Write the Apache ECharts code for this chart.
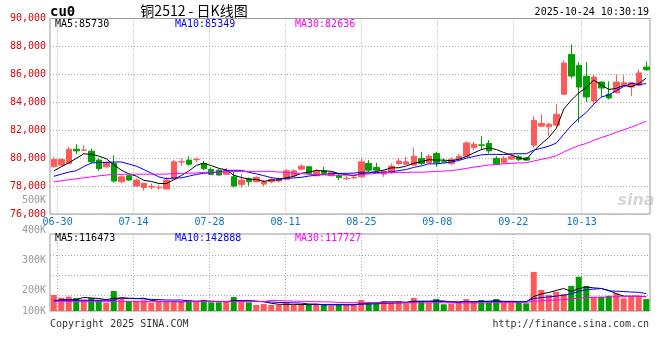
<!DOCTYPE html>
<html><head><meta charset="utf-8">
<script src="https://cdn.jsdelivr.net/npm/echarts@6/dist/echarts.min.js"></script>
<style>html,body{margin:0;padding:0;background:#fff}#c{width:660px;height:360px}</style>
</head><body><div id="c"></div><script>
// ---------- data ----------
const dates = ['06-27','06-30','07-01','07-02','07-03','07-04','07-07','07-08','07-09','07-10','07-11','07-14','07-15','07-16','07-17','07-18','07-21','07-22','07-23','07-24','07-25','07-28','07-29','07-30','07-31','08-01','08-04','08-05','08-06','08-07','08-08','08-11','08-12','08-13','08-14','08-15','08-18','08-19','08-20','08-21','08-22','08-25','08-26','08-27','08-28','08-29','09-01','09-02','09-03','09-04','09-05','09-08','09-09','09-10','09-11','09-12','09-15','09-16','09-17','09-18','09-19','09-22','09-23','09-24','09-25','09-26','09-29','09-30','10-09','10-10','10-13','10-14','10-15','10-16','10-17','10-20','10-21','10-22','10-23','10-24'];
const opens  = [79380,79500,79620,80640,80560,80500,79860,79380,79620,78310,78740,78000,77900,77930,77880,77790,78500,79720,79860,79890,79620,79190,79140,78840,78660,78120,78500,78310,78140,78310,78360,78480,78740,79210,79380,78740,79090,78740,78740,78530,78580,78660,79620,79330,78860,78950,79620,79570,79500,79980,79670,80330,79760,79620,79930,80140,80760,80950,81050,79980,79670,79930,80090,80020,80930,82290,82240,82360,84570,87430,86640,85860,84090,85450,84570,84690,85210,85090,85210,86520];
const closes = [79910,79900,80640,80520,80580,79740,79260,79690,78360,78660,78430,78430,78190,77960,77910,78430,79740,79750,79570,79920,79240,78840,78790,79020,78000,78430,78310,78620,78310,78480,78480,79090,79090,79430,78910,79070,78910,78980,78620,78560,78620,79740,79140,79140,79070,79430,79790,79740,80140,79620,80140,79670,79730,79910,80140,81090,81000,80920,80520,79570,80000,80140,79910,79860,82710,82480,82430,83140,86810,85880,85090,84380,85810,85020,84310,85450,85400,85400,86100,86330];
const lows   = [79340,79450,79620,80290,80550,79620,79090,79340,78240,78190,78360,77950,77670,77760,77710,77790,78500,79450,79450,79690,79140,78790,78740,78790,77900,77900,78020,78260,78000,78190,78260,78430,78690,79140,78860,78690,78860,78690,78430,78430,78530,78620,79020,79090,78660,78860,79500,79500,79500,79500,79620,79380,79690,79500,79860,80090,80570,80570,80330,79500,79620,79860,79790,79790,80740,82240,81590,82360,84570,85690,82550,84020,83860,84380,84210,84620,85160,84430,85160,86240];
const highs  = [80090,79980,80810,81000,80930,80690,79980,79760,80210,78790,78790,78550,78240,78190,78070,78660,79860,79980,80140,80050,79790,79340,79210,79310,79070,78860,78620,78690,78430,78600,78620,79210,79190,79570,79430,79210,79380,79020,78910,78740,78690,79980,79860,79670,79140,79620,80020,80090,80760,80450,80280,80450,79980,80050,80330,81210,81160,81570,81290,80140,80140,80330,80210,80090,83000,83140,82550,83860,87000,88140,86880,86880,85980,85500,85500,85980,85930,85450,86350,86930];
const volumes = [131,109,117,107,93,107,90,68,164,107,84,84,88,68,76,76,80,76,88,76,88,71,71,76,115,90,71,49,57,49,49,68,49,49,49,60,49,43,57,49,57,90,71,66,82,68,82,63,107,82,68,98,55,60,74,98,68,90,71,98,66,71,74,63,320,172,131,158,139,205,281,205,117,117,125,145,104,117,117,98].map(v => v * 1000);
// moving-average values for days whose window starts before 06-27
const ma5Head  = [79090,79380,79670,79980];
const ma10Head = [78700,78850,79000,79100,79400,79650,79690,79700,79720];
const ma30Head = [78300,78380,78450,78520,78590,78660,78730,78790,78840,78840,78850,78850,78850,78850,78850,78860,78900,78910,78920,78940,78980,78990,79000,79020,79040,79050,79050,79050,79050];
const vma5Head  = [79000,93000,93000,93000];
const vma10Head = [88000,88000,88000,88000,88000,88000,88000,88000,88000];
const vma30Head = [77000,77000,77000,77000,77000,77000,77000,77000,77000,77000,77000,77000,77000,77000,77000,77000,77000,77000,77000,77000,77000,77000,77000,77000,77000,77000,77000,77000,77000];
const labelIdx = [1,11,21,31,41,51,61,70];
const priceMA = ['MA5:85730','MA10:85349','MA30:82636'];
const volMA   = ['MA5:116473','MA10:142888','MA30:117727'];
const volTickLabels = ['500K','400K','300K','200K','100K'];
const headerCode = 'cu0';
const headerTitle = '铜2512 - 日K线图';
const headerTime = '2025-10-24 10:30:19';
const footerLeft = 'Copyright 2025 SINA.COM';
const footerRight = 'http://finance.sina.com.cn';

// ---------- helpers ----------
function movingAvg(vals, n, head) {
  return vals.map((v, i) => {
    if (i < n - 1) return head[i];
    let s = 0; for (let k = i - n + 1; k <= i; k++) s += vals[k];
    return Math.round(s / n);
  });
}
const UP = '#ff5a5a', DOWN = '#00a000';
const MONO = '"DejaVu Sans Mono", "Liberation Mono", monospace';
const GRIDC = '#aaaaaa';
const candles = opens.map((o, i) => [o, closes[i], lows[i], highs[i]]);
const volBars = volumes.map((v, i) => ({value: v, itemStyle: {color: closes[i] >= opens[i] ? UP : DOWN}}));
const n = dates.length;

const chart = echarts.init(document.getElementById('c'), null, {renderer: 'canvas'});
const dotted = {show: true, lineStyle: {color: GRIDC, type: [1, 2], width: 1}};
const lineS = (name, data, color, xi, yi) => ({name, type: 'line', data, xAxisIndex: xi, yAxisIndex: yi, symbol: 'none', silent: true, lineStyle: {color, width: 1}, animation: false});

function text(x, y, t, fill, font, align) {
  return {type: 'text', x, y, silent: true, style: {text: t, fill, font, align: align || 'left', verticalAlign: 'middle'}};
}
const volLabelY = [200, 230, 260, 290.5, 311];

chart.setOption({
  animation: false,
  backgroundColor: '#fff',
  grid: [
    {left: 50, top: 18.5, width: 600, height: 195.5, show: true, borderColor: '#999', borderWidth: 1, backgroundColor: 'transparent'},
    {left: 50, top: 234, width: 600, height: 77, show: true, borderColor: '#999', borderWidth: 1, backgroundColor: 'transparent'}
  ],
  xAxis: [
    {type: 'category', gridIndex: 0, data: dates, boundaryGap: true, axisLine: {show: false}, axisTick: {show: false}, axisLabel: {show: false}, splitLine: {show: false}},
    {type: 'value', gridIndex: 0, min: 0, max: n - 1, position: 'bottom', axisLine: {show: false},
      axisTick: {show: false, customValues: labelIdx},
      axisLabel: {customValues: labelIdx, formatter: v => dates[v], color: '#0a74c8', fontFamily: MONO, fontSize: 10, margin: 3},
      splitLine: dotted},
    {type: 'category', gridIndex: 1, data: dates, boundaryGap: true, axisLine: {show: false}, axisTick: {show: false}, axisLabel: {show: false}, splitLine: {show: false}},
    {type: 'value', gridIndex: 1, min: 0, max: n - 1, position: 'bottom', axisLine: {show: false},
      axisTick: {show: false, customValues: labelIdx}, axisLabel: {show: false, customValues: labelIdx}, splitLine: dotted}
  ],
  yAxis: [
    {type: 'value', gridIndex: 0, min: 76000, max: 90000, interval: 2000, axisLine: {show: false}, axisTick: {show: false},
      axisLabel: {color: '#e00000', fontFamily: MONO, fontSize: 10, margin: 4, padding: [0, 0, 3, 0]}, splitLine: dotted},
    {type: 'value', gridIndex: 1, min: 0, max: 631400, axisLine: {show: false}, axisTick: {show: false}, axisLabel: {show: false}, splitLine: {show: false}},
    {type: 'value', gridIndex: 1, min: -0.8, max: 3.05, axisLine: {show: false}, axisTick: {show: false, customValues: [0, 1, 2]}, axisLabel: {show: false, customValues: [0, 1, 2]}, splitLine: dotted}
  ],
  series: [
    {type: 'candlestick', data: candles, xAxisIndex: 0, yAxisIndex: 0, barWidth: 6, silent: true,
      itemStyle: {color: UP, color0: DOWN, borderColor: UP, borderColor0: DOWN, borderWidth: 1}},
    lineS('MA5', movingAvg(closes, 5, ma5Head), '#000000', 0, 0),
    lineS('MA10', movingAvg(closes, 10, ma10Head), '#0000ff', 0, 0),
    lineS('MA30', movingAvg(closes, 30, ma30Head), '#ff00ff', 0, 0),
    {type: 'bar', data: volBars, xAxisIndex: 2, yAxisIndex: 1, barWidth: 6, silent: true},
    lineS('VMA5', movingAvg(volumes, 5, vma5Head), '#000000', 2, 1),
    lineS('VMA10', movingAvg(volumes, 10, vma10Head), '#0000ff', 2, 1),
    lineS('VMA30', movingAvg(volumes, 30, vma30Head), '#ff00ff', 2, 1)
  ],
  graphic: [
    text(50, 12, headerCode, '#000', 'bold 14px ' + MONO),
    text(194, 11, headerTitle, '#000', '14px "Noto Sans CJK SC", sans-serif', 'center'),
    text(649, 12, headerTime, '#000', '10px ' + MONO, 'right'),
    text(55, 24, priceMA[0], '#000', '10px ' + MONO),
    text(175, 24, priceMA[1], '#0000ff', '10px ' + MONO),
    text(295, 24, priceMA[2], '#ff00ff', '10px ' + MONO),
    text(55, 238.5, volMA[0], '#000', '10px ' + MONO),
    text(175, 238.5, volMA[1], '#0000ff', '10px ' + MONO),
    text(295, 238.5, volMA[2], '#ff00ff', '10px ' + MONO),
    text(50, 324, footerLeft, '#333', '10px ' + MONO),
    text(649, 324, footerRight, '#333', '10px ' + MONO, 'right'),
    text(636, 201, 'sina', 'rgba(180,180,180,0.55)', 'italic bold 16px "DejaVu Sans", sans-serif', 'center'),
    ...volTickLabels.map((t, i) => text(46, volLabelY[i], t, '#999', '10px ' + MONO, 'right'))
  ]
});
</script></body></html>
